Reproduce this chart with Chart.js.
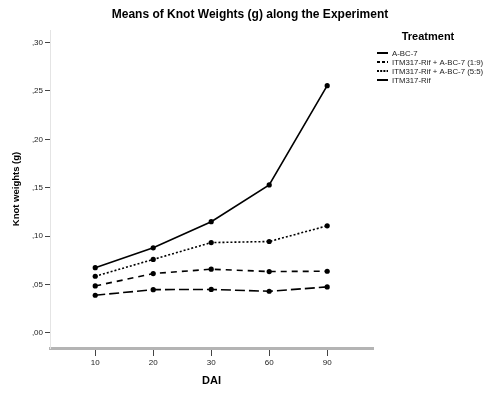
<!DOCTYPE html>
<html>
<head>
<meta charset="utf-8">
<script src="https://cdn.jsdelivr.net/npm/chart.js@4/dist/chart.umd.min.js"></script>
<style>
  html, body { margin: 0; padding: 0; background: #fff; }
  #wrap { width: 500px; height: 399px; }
</style>
</head>
<body>
<div id="wrap"><canvas id="c" width="500" height="399"></canvas></div>
<script>
// ---- data ----
const chartTitle = 'Means of Knot Weights (g) along the Experiment';
const dai = ['10', '20', '30', '60', '90'];
const treatments = ['A-BC-7', 'ITM317-Rif + A-BC-7 (1:9)', 'ITM317-Rif + A-BC-7 (5:5)', 'ITM317-Rif'];
const abc7 = [0.039, 0.0448, 0.0450, 0.0431, 0.0476];
const mix19 = [0.0486, 0.0614, 0.0659, 0.0635, 0.0638];
const mix55 = [0.0586, 0.0760, 0.0934, 0.0945, 0.1107];
const itm = [0.0675, 0.0880, 0.1150, 0.1530, 0.2555];
const yTicks = [0, 0.05, 0.10, 0.15, 0.20, 0.25, 0.30];

const seriesValues = [abc7, mix19, mix55, itm];
const dashes = [[10, 4], [6, 5], [2, 2], []];
const legendDashes = [[10, 0], [3, 2], [2, 1.2], []];

const datasets = seriesValues.map((vals, k) => ({
  label: treatments[k],
  data: vals.map((v, i) => ({ x: i, y: v })),
  borderColor: '#000',
  backgroundColor: '#000',
  borderWidth: 1.6,
  borderDash: dashes[k],
  pointRadius: 2.6,
  pointBackgroundColor: '#000',
  pointBorderWidth: 0,
  tension: 0,
  fill: false
}));

const FONT = '"Liberation Sans", Arial, sans-serif';

const legendPlugin = {
  id: 'customLegend',
  afterDraw(chart) {
    const ctx = chart.ctx;
    ctx.save();
    // chart title, centred on the full canvas
    ctx.fillStyle = '#000';
    ctx.font = 'bold 12px ' + FONT;
    ctx.textAlign = 'center';
    ctx.textBaseline = 'middle';
    ctx.fillText(chartTitle, chart.width / 2, 15);
    // legend
    ctx.font = 'bold 11px ' + FONT;
    ctx.fillText('Treatment', 428, 37);
    const ys = [53, 62, 71, 80];
    chart.data.datasets.forEach((ds, k) => {
      const y = ys[k];
      ctx.beginPath();
      ctx.strokeStyle = '#000';
      ctx.lineWidth = 2;
      ctx.setLineDash(legendDashes[k]);
      ctx.moveTo(377, y);
      ctx.lineTo(388, y);
      ctx.stroke();
      ctx.setLineDash([]);
      ctx.fillStyle = '#222';
      ctx.font = '7.8px ' + FONT;
      ctx.textAlign = 'left';
      ctx.fillText(ds.label, 392, y + 0.5);
    });
    ctx.restore();
  }
};

new Chart(document.getElementById('c'), {
  type: 'line',
  data: { datasets },
  plugins: [legendPlugin],
  options: {
    responsive: false,
    animation: false,
    devicePixelRatio: 1,
    layout: { padding: { left: 0, right: 127, top: 30, bottom: 0 } },
    plugins: {
      legend: { display: false },
      tooltip: { enabled: false },
      title: { display: false }
    },
    scales: {
      x: {
        type: 'linear',
        min: -0.78,
        max: 4.79,
        afterBuildTicks(scale) { scale.ticks = dai.map((d, i) => ({ value: i })); },
        afterFit(scale) { scale.height = 51; },
        ticks: {
          callback: (v) => dai[v],
          color: '#222',
          font: { family: FONT, size: 8 },
          padding: 2,
          maxRotation: 0
        },
        grid: { drawOnChartArea: false, drawTicks: true, tickLength: 8, tickColor: '#444', tickWidth: 1 },
        border: { display: true, color: '#b4b4b4', width: 3 },
        title: {
          display: true,
          text: 'DAI',
          color: '#000',
          font: { family: FONT, size: 11, weight: 'bold' },
          padding: { top: 0, bottom: 11 }
        }
      },
      y: {
        type: 'linear',
        min: -0.0155,
        max: 0.313,
        afterBuildTicks(scale) { scale.ticks = yTicks.map(v => ({ value: v })); },
        afterFit(scale) { scale.width = 50; },
        ticks: {
          callback: (v) => v.toFixed(2).replace('0.', ','),
          color: '#222',
          font: { family: FONT, size: 8 },
          padding: 2
        },
        grid: { drawOnChartArea: false, drawTicks: true, tickLength: 5, tickColor: '#444', tickWidth: 1 },
        border: { display: true, color: '#e4e4e4', width: 1 },
        title: {
          display: true,
          text: 'Knot weights (g)',
          color: '#000',
          font: { family: FONT, size: 9.5, weight: 'bold' },
          padding: { top: 11, bottom: 0 }
        }
      }
    }
  }
});
</script>
</body>
</html>
